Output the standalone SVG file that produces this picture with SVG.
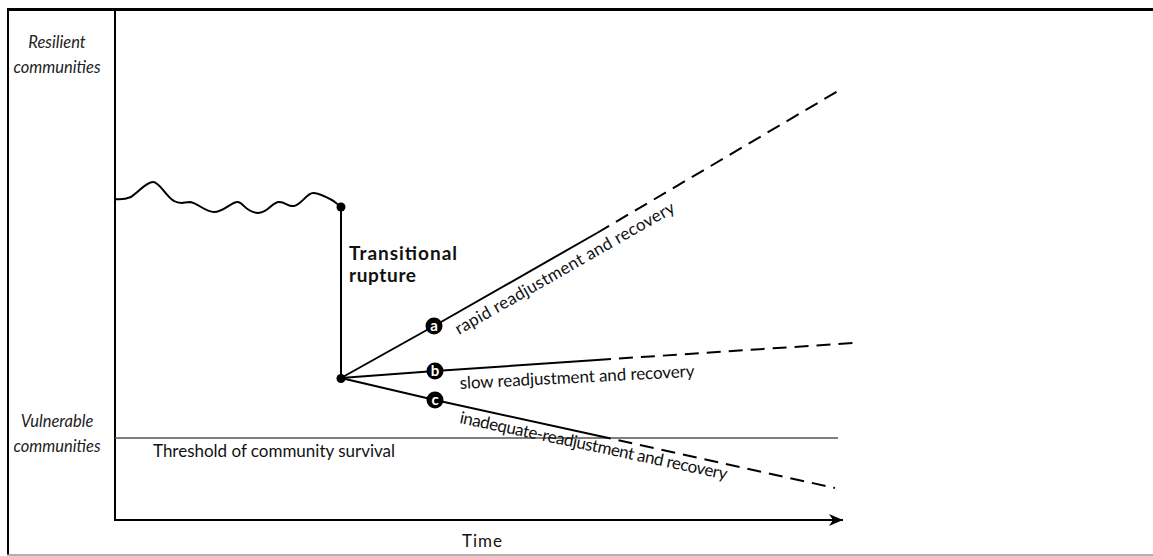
<svg xmlns="http://www.w3.org/2000/svg" width="1153" height="556" viewBox="0 0 1153 556">
<style>
.axis{stroke:#000;stroke-width:2;fill:none}
.ln{stroke:#000;stroke-width:2;fill:none}
.dash{stroke:#000;stroke-width:2;fill:none;stroke-dasharray:14 8}
.lbl{font-family:Lato,"Open Sans",sans-serif;font-size:17px;fill:#111}
.side{font-family:Lato,"Open Sans",sans-serif;font-size:16.5px;font-style:italic;fill:#222;text-anchor:middle}
.badge{fill:#000}
.badgetxt{font-family:Lato,sans-serif;font-size:15px;font-weight:bold;fill:#fff;text-anchor:middle}
.bold{font-family:Lato,"Open Sans",sans-serif;font-size:19px;font-weight:bold;fill:#111}
</style>
<defs>
<marker id="arr" markerWidth="16" markerHeight="14" refX="14" refY="7" orient="auto" markerUnits="userSpaceOnUse">
<path d="M0,1 L14,7 L0,13 L4,7 Z" fill="#000"/>
</marker>
</defs>
<rect width="1153" height="556" fill="#fff"/>
<g id="frame">
<line x1="7" y1="9.5" x2="1153" y2="9.5" stroke="#000" stroke-width="3"/>
<line x1="8" y1="9" x2="8" y2="555" stroke="#000" stroke-width="2"/>
<line x1="7" y1="555" x2="1153" y2="555" stroke="#999" stroke-width="1.5"/>
</g>
<g id="axes">
<line class="axis" x1="115" y1="10" x2="115" y2="520"/>
<line class="axis" x1="114" y1="520" x2="843" y2="520" marker-end="url(#arr)"/>
<text class="lbl" x="462" y="547" font-size="19" textLength="40">Time</text>
</g>
<g id="y-labels">
<text class="side" x="57" y="48">Resilient</text>
<text class="side" x="57" y="73">communities</text>
<text class="side" x="57" y="427">Vulnerable</text>
<text class="side" x="57" y="452">communities</text>
</g>
<g id="threshold">
<line x1="115" y1="438" x2="838" y2="438" stroke="#555" stroke-width="1.5"/>
<text class="lbl" x="153" y="457" font-size="18" textLength="242">Threshold of community survival</text>
</g>
<g id="connectors">
<path class="ln" d="M115,199 C122,200 126,199 131,197 C140,191 146,182 153,182 C160,182 166,197 174,201 C181,205 184,202 190,202 C198,203 205,212 214,212 C224,212 232,201 238,202 C244,203 245,212 258,213 C268,213 272,202 279,202 C286,202 288,207 294,206 C301,205 307,193 313,193 C320,193 325,197 330,199 C335,201 338,205 341,207"/>
<line class="ln" x1="341" y1="207" x2="341" y2="378"/>
<polyline class="ln" points="341,378 434,326 597,233"/>
<line class="dash" x1="597" y1="233" x2="838" y2="91"/>
<polyline class="ln" points="341,378 435,371 597,360"/>
<line class="dash" x1="597" y1="360" x2="853" y2="343"/>
<polyline class="ln" points="341,378 435,400 597,435.5"/>
<line class="dash" x1="597" y1="435.5" x2="835" y2="488"/>
</g>
<g id="rupture">
<circle cx="341" cy="207" r="4.5" fill="#000"/>
<circle cx="341" cy="378.5" r="4.5" fill="#000"/>
<text class="bold" x="349" y="260" textLength="108">Transitional</text>
<text class="bold" x="349" y="282" textLength="67">rupture</text>
</g>
<g id="path-a">
<circle class="badge" cx="434" cy="326" r="8.5"/>
<text class="badgetxt" x="434" y="331">a</text>
<text class="lbl" x="459" y="335" transform="rotate(-29.7 459 335)" textLength="250">rapid readjustment and recovery</text>
</g>
<g id="path-b">
<circle class="badge" cx="435" cy="371" r="8.5"/>
<text class="badgetxt" x="435" y="376">b</text>
<text class="lbl" x="460" y="389" transform="rotate(-3 460 389)" textLength="235">slow readjustment and recovery</text>
</g>
<g id="path-c">
<circle class="badge" cx="435" cy="400" r="8.5"/>
<text class="badgetxt" x="435" y="405">c</text>
<text class="lbl" x="459" y="423" transform="rotate(12 459 423)" textLength="273">inadequate-readjustment and recovery</text>
</g>
</svg>
